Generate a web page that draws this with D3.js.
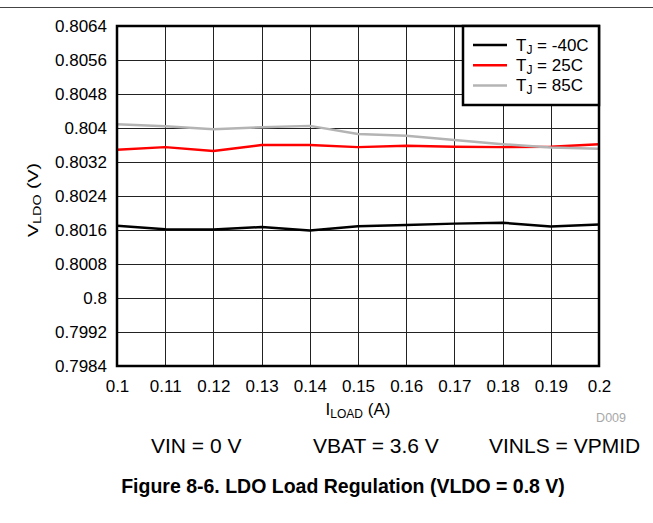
<!DOCTYPE html>
<html><head><meta charset="utf-8">
<script src="https://cdn.jsdelivr.net/npm/d3@7"></script>
<style>body{margin:0;background:#fff}svg{display:block;font-family:"Liberation Sans",Arial,sans-serif}</style>
</head><body>
<script>
const loadA = [0.1,0.11,0.12,0.13,0.14,0.15,0.16,0.17,0.18,0.19,0.2];
const vM40 = [0.8017,0.80162,0.80161,0.80167,0.80159,0.80169,0.80172,0.80175,0.80177,0.80168,0.80173];
const v25 = [0.80349,0.80355,0.80346,0.8036,0.8036,0.80355,0.80358,0.80356,0.80355,0.80356,0.80362];
const v85 = [0.80409,0.80404,0.80397,0.80402,0.80405,0.80386,0.80382,0.80372,0.80362,0.80354,0.80351];
const xTicks = [0.1,0.11,0.12,0.13,0.14,0.15,0.16,0.17,0.18,0.19,0.2];
const xTickLabels = ["0.1","0.11","0.12","0.13","0.14","0.15","0.16","0.17","0.18","0.19","0.2"];
const yTicks = [0.7984,0.7992,0.8,0.8008,0.8016,0.8024,0.8032,0.804,0.8048,0.8056,0.8064];
const yTickLabels = ["0.7984","0.7992","0.8","0.8008","0.8016","0.8024","0.8032","0.804","0.8048","0.8056","0.8064"];
const seriesNames = ["-40C","25C","85C"];
const seriesColors = ["#000000","#ff0000","#b4b4b4"];
const seriesData = [vM40, v25, v85];

const W=653,H=523;
const L=117,R=599,T=26,B=366;
const FF="Liberation Sans, Arial, sans-serif";
const svg=d3.select("body").append("svg").attr("width",W).attr("height",H);
const x=d3.scaleLinear().domain([0.1,0.2]).range([L,R]);
const y=d3.scaleLinear().domain([0.7984,0.8064]).range([B,T]);

// top rule
svg.append("line").attr("x1",0).attr("x2",W).attr("y1",7.5).attr("y2",7.5).attr("stroke","#444").attr("stroke-width",1);

// grid
const g=svg.append("g");
g.selectAll(".vx").data(xTicks.slice(1,-1)).join("line")
 .attr("x1",d=>Math.round(x(d))+0.5).attr("x2",d=>Math.round(x(d))+0.5).attr("y1",T).attr("y2",B)
 .attr("stroke","#222").attr("stroke-width",1);
g.selectAll(".hy").data(yTicks.slice(1,-1)).join("line")
 .attr("y1",d=>Math.round(y(d))+0.5).attr("y2",d=>Math.round(y(d))+0.5).attr("x1",L).attr("x2",R)
 .attr("stroke","#222").attr("stroke-width",1);

// series
const line=d3.line().x((d,i)=>x(loadA[i])).y(d=>y(d));
seriesData.forEach((s,k)=>{
  svg.append("path").datum(s).attr("d",line).attr("fill","none")
   .attr("stroke",seriesColors[k]).attr("stroke-width",2.5).attr("stroke-linejoin","round");
});

// frame
svg.append("rect").attr("x",L).attr("y",T).attr("width",R-L).attr("height",B-T)
 .attr("fill","none").attr("stroke","#000").attr("stroke-width",2.5);

// axes (labels only)
const xa=svg.append("g").attr("transform",`translate(0,${B})`)
 .call(d3.axisBottom(x).tickValues(xTicks).tickFormat((d,i)=>xTickLabels[i]).tickSize(0).tickPadding(14));
xa.select(".domain").remove();
xa.selectAll("text").attr("font-size",17).attr("fill","#000").attr("font-family",FF);
const ya=svg.append("g").attr("transform",`translate(${L},0)`)
 .call(d3.axisLeft(y).tickValues(yTicks).tickFormat((d,i)=>yTickLabels[i]).tickSize(0).tickPadding(10));
ya.select(".domain").remove();
ya.selectAll("text").attr("font-size",17).attr("fill","#000").attr("font-family",FF);

// axis titles
const xt=svg.append("text").attr("x",358).attr("y",415).attr("text-anchor","middle").attr("font-size",17);
xt.append("tspan").text("I");
xt.append("tspan").text("LOAD").attr("font-size",12).attr("dy",3);
xt.append("tspan").text(" (A)").attr("dy",-3);

const yt=svg.append("text").attr("transform",`translate(37.5,200) rotate(-90) scale(1.3,1)`).attr("text-anchor","middle").attr("font-size",15);
yt.append("tspan").text("V");
yt.append("tspan").text("LDO").attr("font-size",11).attr("dy",3);
yt.append("tspan").text(" (V)").attr("dy",-3);

// legend
const lg=svg.append("g");
lg.append("rect").attr("x",463).attr("y",26).attr("width",136).attr("height",79)
 .attr("fill","#fff").attr("stroke","#000").attr("stroke-width",2.5);
seriesNames.forEach((n,k)=>{
  const yy=45+k*20.3;
  lg.append("line").attr("x1",473).attr("x2",507).attr("y1",yy).attr("y2",yy)
   .attr("stroke",seriesColors[k]).attr("stroke-width",2.5);
  const t=lg.append("text").attr("x",516).attr("y",yy+5.7).attr("font-size",17);
  t.append("tspan").text("T");
  t.append("tspan").text("J").attr("font-size",12).attr("dy",3);
  t.append("tspan").text(" = "+n).attr("dy",-3);
});

// D009
svg.append("text").attr("x",626).attr("y",421.5).attr("text-anchor","end").attr("font-size",12.5).attr("fill","#a8a8a8").text("D009");

// conditions
svg.append("text").attr("x",151).attr("y",453).attr("font-size",21).text("VIN = 0 V");
svg.append("text").attr("x",313).attr("y",453).attr("font-size",21).text("VBAT = 3.6 V");
svg.append("text").attr("x",489).attr("y",453).attr("font-size",21).text("VINLS = VPMID");

// caption
svg.append("text").attr("x",343).attr("y",493).attr("text-anchor","middle").attr("font-size",19.5).attr("font-weight","bold").text("Figure 8-6. LDO Load Regulation (VLDO = 0.8 V)");
</script>
</body></html>
